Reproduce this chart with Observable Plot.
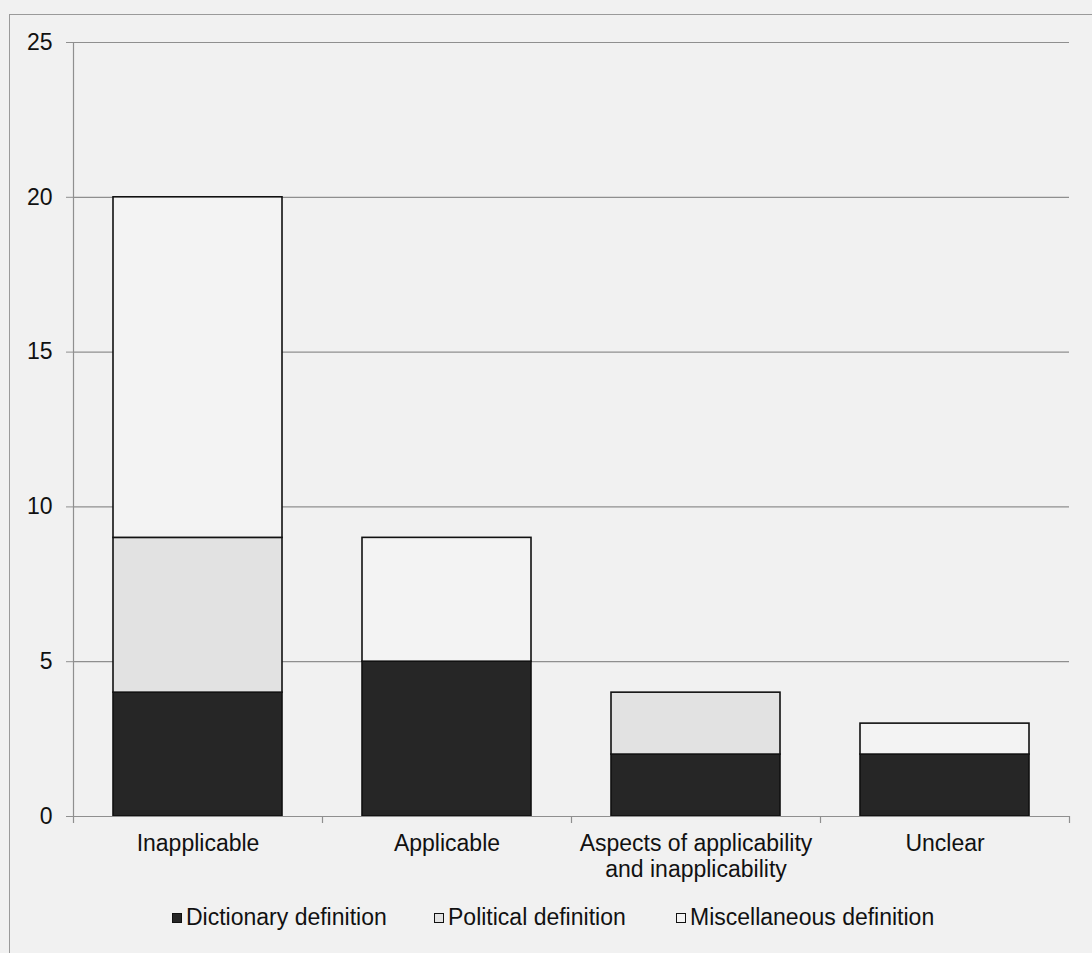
<!DOCTYPE html>
<html>
<head>
<meta charset="utf-8">
<script src="https://cdn.jsdelivr.net/npm/d3@7"></script>
<script src="https://cdn.jsdelivr.net/npm/@observablehq/plot@0.6"></script>
<style>
  html, body { margin: 0; padding: 0; background: #f1f1f1; overflow: hidden; }
  body { width: 1092px; height: 953px; position: relative; font-family: "Liberation Sans", Arial, sans-serif; }
  #frame { position: absolute; left: 9px; top: 14px; width: 1200px; height: 1100px; border: 1.5px solid #9a9a9a; box-sizing: border-box; }
  #chart { position: absolute; left: 0; top: 0; }
  #legend { position: absolute; top: 904px; left: 0; width: 1092px; height: 28px; font-size: 23px; color: #111; }
  .item { position: absolute; top: 0; display: flex; align-items: center; white-space: nowrap; }
  .sw { width: 10px; height: 10px; box-sizing: border-box; border: 1px solid #111; margin-right: 4px; }
</style>
</head>
<body>
<div id="frame"></div>
<div id="chart"></div>
<div id="legend"></div>
<script>
// Responses grouped by how the term was judged, split by the kind of definition used
const categories = ["Inapplicable", "Applicable", "Aspects of applicability\nand inapplicability", "Unclear"];
const series = ["Dictionary definition", "Political definition", "Miscellaneous definition"];
const dictionary = [4, 5, 2, 2];
const political = [5, 0, 2, 0];
const miscellaneous = [11, 4, 0, 1];
const yTicks = [0, 5, 10, 15, 20, 25];
const fills = ["#262626", "#e2e2e2", "#f3f3f3"];

const rows = [];
const valuesBySeries = [dictionary, political, miscellaneous];
categories.forEach((c, i) => {
  series.forEach((s, j) => {
    rows.push({category: c, series: s, value: valuesBySeries[j][i]});
  });
});

const W = 1092, H = 895;
const mL = 73, mR = 23, mT = 42, mB = 79;
const step = (W - mL - mR) / categories.length;
const pxPerUnit = (H - mT - mB) / 25;
const tickLen = 7 / pxPerUnit;

const chart = Plot.plot({
  width: W,
  height: H,
  marginLeft: mL,
  marginRight: mR,
  marginTop: mT,
  marginBottom: mB,
  style: {background: "transparent", fontFamily: "'Liberation Sans', Arial, sans-serif", fontSize: "23px", color: "#111"},
  x: {domain: categories, paddingInner: 0.32, paddingOuter: 0.16, axis: null},
  y: {domain: [0, 25], ticks: yTicks, axis: null},
  color: {domain: series, range: fills},
  marks: [
    // horizontal gridlines
    Plot.gridY(yTicks, {stroke: "#8f8f8f", strokeOpacity: 1, strokeWidth: 1.2}),
    // y axis line, ticks and labels
    Plot.axisY({ticks: yTicks, label: null, tickSize: 7, tickPadding: 14, stroke: "#8f8f8f", fontSize: 23, fill: "#111"}),
    Plot.ruleX([categories[0]], {dx: -step / 2, y1: 0, y2: 25, stroke: "#8f8f8f", strokeWidth: 1.2}),
    // category boundary ticks below the baseline
    Plot.ruleX(categories, {x: d => d, dx: -step / 2, y1: 0, y2: -tickLen, stroke: "#8f8f8f", strokeWidth: 1.2}),
    Plot.ruleX([categories[categories.length - 1]], {dx: step / 2, y1: 0, y2: -tickLen, stroke: "#8f8f8f", strokeWidth: 1.2}),
    // stacked bars
    Plot.barY(rows.filter(d => d.value > 0), Plot.stackY({
      x: "category", y: "value", fill: "series", order: series,
      stroke: "#111", strokeWidth: 1.6
    })),
    // baseline
    Plot.ruleY([0], {stroke: "#8f8f8f", strokeWidth: 1.2}),
    // category labels
    Plot.text(categories, {x: d => d, y: () => 0, dy: 17, lineAnchor: "top", lineHeight: 1.1, fontSize: 23, fill: "#111"})
  ]
});
document.getElementById("chart").appendChild(chart);

// legend
const legendX = [172, 434, 676];
const legend = document.getElementById("legend");
series.forEach((s, j) => {
  const item = document.createElement("div");
  item.className = "item";
  item.style.left = legendX[j] + "px";
  const sw = document.createElement("span");
  sw.className = "sw";
  sw.style.background = fills[j];
  const label = document.createElement("span");
  label.textContent = s;
  item.appendChild(sw);
  item.appendChild(label);
  legend.appendChild(item);
});
</script>
</body>
</html>
